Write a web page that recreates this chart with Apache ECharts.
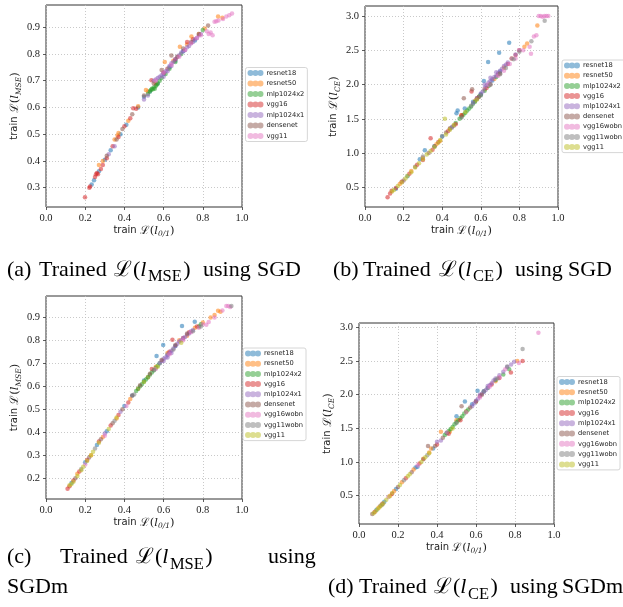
<!DOCTYPE html>
<html>
<head>
<meta charset="utf-8">
<script src="https://cdn.jsdelivr.net/npm/echarts@6/dist/echarts.min.js"></script>
<style>
  html, body { margin: 0; padding: 0; background: #fff; }
  #chart { width: 623px; height: 607px; }
</style>
</head>
<body>
<div id="chart"></div>
<script>
// ---- model names (legend order) ----
const modelsSgdMse = ['resnet18', 'resnet50', 'mlp1024x2', 'vgg16', 'mlp1024x1', 'densenet', 'vgg11'];
const modelsFull = ['resnet18', 'resnet50', 'mlp1024x2', 'vgg16', 'mlp1024x1', 'densenet', 'vgg16wobn', 'vgg11wobn', 'vgg11'];

// ---- tick labels ----
const xTicks = [0.0, 0.2, 0.4, 0.6, 0.8, 1.0];
const yTicksA = [0.3, 0.4, 0.5, 0.6, 0.7, 0.8, 0.9];
const yTicksB = [0.5, 1.0, 1.5, 2.0, 2.5, 3.0];
const yTicksC = [0.2, 0.3, 0.4, 0.5, 0.6, 0.7, 0.8, 0.9];
const yTicksD = [0.5, 1.0, 1.5, 2.0, 2.5, 3.0];

// ---- (a) SGD, MSE loss vs 0/1 loss ----
const a_resnet18 = [[0.233,0.312],[0.245,0.328],[0.27,0.362],[0.3,0.405],[0.33,0.44],[0.38,0.50],[0.41,0.535],[0.47,0.6],[0.5,0.64],[0.53,0.66],[0.57,0.69],[0.6,0.725],[0.63,0.75],[0.66,0.775],[0.7,0.81],[0.76,0.85]];
const a_resnet50 = [[0.27,0.385],[0.29,0.40],[0.35,0.48],[0.365,0.495],[0.37,0.505],[0.42,0.55],[0.47,0.605],[0.51,0.665],[0.52,0.66],[0.56,0.69],[0.606,0.77],[0.62,0.745],[0.65,0.775],[0.683,0.827],[0.72,0.835],[0.742,0.865],[0.78,0.875],[0.81,0.895],[0.878,0.94],[0.9,0.935]];
const a_mlp1024x2 = [[0.52,0.65],[0.53,0.66],[0.535,0.665],[0.54,0.67],[0.545,0.668],[0.55,0.675],[0.555,0.67],[0.56,0.68],[0.565,0.685],[0.57,0.69],[0.58,0.70],[0.59,0.71],[0.61,0.725],[0.63,0.745],[0.66,0.77],[0.69,0.80],[0.8,0.89]];
const a_vgg16 = [[0.199,0.264],[0.221,0.30],[0.225,0.305],[0.25,0.34],[0.255,0.35],[0.26,0.355],[0.265,0.35],[0.28,0.37],[0.29,0.385],[0.31,0.41],[0.34,0.455],[0.37,0.49],[0.40,0.53],[0.43,0.56],[0.445,0.597],[0.46,0.595],[0.538,0.702],[0.6,0.73],[0.66,0.78],[0.72,0.845],[0.75,0.855]];
const a_mlp1024x1 = [[0.55,0.70],[0.56,0.705],[0.57,0.71],[0.58,0.715],[0.59,0.72],[0.6,0.73],[0.61,0.735],[0.62,0.745],[0.63,0.755],[0.64,0.765],[0.65,0.77],[0.66,0.78],[0.67,0.79],[0.68,0.795],[0.69,0.805],[0.7,0.81],[0.71,0.815],[0.72,0.825],[0.73,0.83],[0.74,0.84],[0.75,0.845],[0.76,0.855],[0.77,0.86],[0.78,0.87],[0.79,0.875],[0.6,0.715],[0.62,0.735],[0.64,0.755],[0.35,0.455],[0.32,0.425],[0.5,0.63],[0.52,0.645]];
const a_densenet = [[0.31,0.42],[0.36,0.48],[0.39,0.52],[0.44,0.575],[0.5,0.645],[0.55,0.69],[0.59,0.74],[0.64,0.794],[0.67,0.79],[0.7,0.82],[0.74,0.845],[0.78,0.875],[0.827,0.906]];
const a_vgg11 = [[0.56,0.70],[0.6,0.73],[0.64,0.76],[0.68,0.79],[0.71,0.815],[0.74,0.84],[0.77,0.86],[0.79,0.87],[0.82,0.885],[0.83,0.875],[0.84,0.88],[0.85,0.87],[0.86,0.92],[0.869,0.922],[0.88,0.925],[0.903,0.931],[0.92,0.94],[0.935,0.945],[0.949,0.951]];

// ---- (b) SGD, CE loss vs 0/1 loss ----
const b_resnet18 = [[0.16,0.48],[0.22,0.66],[0.284,0.91],[0.31,1.04],[0.36,1.1],[0.4,1.24],[0.44,1.36],[0.474,1.58],[0.48,1.62],[0.517,1.65],[0.56,1.75],[0.6,1.86],[0.616,2.05],[0.638,2.33],[0.66,2.06],[0.695,2.465],[0.7,2.19],[0.747,2.61]];
const b_resnet50 = [[0.18,0.55],[0.24,0.74],[0.3,0.93],[0.37,1.13],[0.39,1.18],[0.44,1.36],[0.5,1.55],[0.57,1.76],[0.62,1.93],[0.67,2.08],[0.72,2.25],[0.76,2.38],[0.8,2.5],[0.826,2.55],[0.84,2.6],[0.893,2.86]];
const b_mlp1024x2 = [[0.47,1.44],[0.49,1.5],[0.5,1.53],[0.51,1.56],[0.52,1.59],[0.53,1.62],[0.54,1.65],[0.55,1.68],[0.56,1.72],[0.57,1.75],[0.58,1.79],[0.59,1.82],[0.6,1.85],[0.62,1.91],[0.64,1.98],[0.68,2.11]];
const b_vgg16 = [[0.117,0.354],[0.13,0.41],[0.138,0.45],[0.16,0.49],[0.19,0.58],[0.23,0.7],[0.27,0.83],[0.3,0.9],[0.34,1.215],[0.35,1.05],[0.38,1.16],[0.43,1.32],[0.47,1.42],[0.5,1.55],[0.552,1.9],[0.58,1.8],[0.63,1.95],[0.69,2.15],[0.74,2.3],[0.78,2.43]];
const b_mlp1024x1 = [[0.56,1.73],[0.58,1.8],[0.6,1.87],[0.61,1.9],[0.62,1.95],[0.63,1.99],[0.64,2.03],[0.65,2.05],[0.66,2.08],[0.67,2.11],[0.68,2.13],[0.69,2.17],[0.7,2.2],[0.71,2.23],[0.72,2.27],[0.73,2.29],[0.74,2.32],[0.76,2.38],[0.78,2.44],[0.8,2.5],[0.65,2.1],[0.68,2.18],[0.62,2.0],[0.45,1.38]];
const b_densenet = [[0.2,0.6],[0.26,0.8],[0.33,1.0],[0.36,1.1],[0.42,1.3],[0.46,1.4],[0.512,1.8],[0.555,1.93],[0.59,1.82],[0.65,2.0],[0.7,2.16]];
const b_vgg16wobn = [[0.64,2.0],[0.69,2.13],[0.72,2.2],[0.75,2.3],[0.78,2.38],[0.798,2.5],[0.82,2.5],[0.853,2.55],[0.86,2.45],[0.875,2.7],[0.888,2.72],[0.9,3.0],[0.91,3.0],[0.92,2.99],[0.93,3.0],[0.94,3.0],[0.95,3.0]];
const b_vgg11wobn = [[0.3,0.95],[0.4,1.25],[0.45,1.37],[0.5,1.52],[0.55,1.69],[0.6,1.84],[0.65,2.0],[0.7,2.15],[0.73,2.24],[0.77,2.37],[0.8,2.48],[0.862,2.63],[0.931,2.93]];
const b_vgg11 = [[0.14,0.44],[0.15,0.46],[0.17,0.52],[0.19,0.57],[0.21,0.63],[0.22,0.67],[0.24,0.72],[0.26,0.79],[0.28,0.85],[0.3,0.91],[0.32,0.98],[0.34,1.03],[0.36,1.09],[0.38,1.15],[0.39,1.19],[0.414,1.5],[0.42,1.27],[0.44,1.34],[0.46,1.41],[0.52,1.6],[0.58,1.78]];

// ---- (c) SGDm, MSE loss vs 0/1 loss ----
const c_resnet18 = [[0.13,0.18],[0.2,0.27],[0.26,0.345],[0.31,0.405],[0.4,0.515],[0.44,0.56],[0.5,0.625],[0.564,0.732],[0.598,0.78],[0.62,0.74],[0.66,0.775],[0.694,0.862],[0.759,0.881]];
const c_resnet50 = [[0.16,0.22],[0.23,0.3],[0.29,0.38],[0.36,0.46],[0.43,0.545],[0.47,0.59],[0.52,0.64],[0.56,0.685],[0.62,0.745],[0.68,0.8],[0.72,0.82],[0.76,0.855],[0.8,0.878],[0.84,0.9],[0.86,0.91],[0.878,0.929],[0.89,0.925]];
const c_mlp1024x2 = [[0.46,0.58],[0.47,0.59],[0.48,0.6],[0.49,0.61],[0.5,0.62],[0.51,0.63],[0.52,0.64],[0.53,0.65],[0.54,0.66],[0.55,0.67],[0.56,0.68],[0.57,0.69],[0.58,0.7],[0.78,0.86],[0.79,0.87]];
const c_vgg16 = [[0.11,0.155],[0.12,0.165],[0.14,0.19],[0.17,0.23],[0.21,0.28],[0.27,0.36],[0.33,0.43],[0.37,0.475],[0.42,0.53],[0.54,0.675],[0.63,0.75],[0.645,0.803],[0.7,0.81],[0.73,0.835],[0.77,0.86]];
const c_mlp1024x1 = [[0.58,0.7],[0.59,0.71],[0.6,0.72],[0.61,0.725],[0.62,0.735],[0.63,0.745],[0.64,0.755],[0.65,0.765],[0.66,0.775],[0.67,0.785],[0.68,0.795],[0.69,0.8],[0.7,0.81],[0.71,0.815],[0.72,0.825],[0.73,0.83],[0.74,0.84],[0.75,0.845],[0.6,0.71],[0.62,0.725],[0.64,0.745],[0.3,0.395],[0.38,0.49]];
const c_densenet = [[0.15,0.2],[0.22,0.29],[0.28,0.37],[0.34,0.44],[0.39,0.5],[0.44,0.56],[0.48,0.605],[0.53,0.655],[0.59,0.715],[0.66,0.78],[0.72,0.83]];
const c_vgg16wobn = [[0.2,0.26],[0.3,0.385],[0.41,0.515],[0.56,0.675],[0.63,0.74],[0.7,0.8],[0.74,0.835],[0.78,0.855],[0.8,0.87],[0.818,0.868],[0.83,0.88],[0.86,0.9],[0.9,0.93],[0.92,0.95],[0.93,0.95],[0.94,0.945]];
const c_vgg11wobn = [[0.18,0.24],[0.25,0.33],[0.35,0.45],[0.45,0.565],[0.55,0.67],[0.65,0.76],[0.75,0.84],[0.79,0.86],[0.946,0.95]];
const c_vgg11 = [[0.12,0.17],[0.13,0.175],[0.14,0.185],[0.16,0.21],[0.18,0.235],[0.19,0.25],[0.21,0.275],[0.23,0.3],[0.24,0.315],[0.27,0.355],[0.32,0.415],[0.36,0.465],[0.5,0.62],[0.57,0.685],[0.69,0.79]];

// ---- (d) SGDm, CE loss vs 0/1 loss ----
const d_resnet18 = [[0.09,0.29],[0.13,0.41],[0.19,0.6],[0.29,0.92],[0.3,0.93],[0.38,1.2],[0.45,1.43],[0.5,1.68],[0.543,1.9],[0.58,1.86],[0.608,2.06],[0.64,2.05]];
const d_resnet50 = [[0.1,0.32],[0.16,0.5],[0.18,0.57],[0.22,0.7],[0.28,0.89],[0.33,1.05],[0.36,1.14],[0.37,1.2],[0.42,1.45],[0.466,1.45],[0.5,1.62],[0.55,1.75],[0.62,1.98],[0.7,2.2],[0.812,2.5]];
const d_mlp1024x2 = [[0.44,1.4],[0.45,1.43],[0.46,1.46],[0.47,1.49],[0.48,1.52],[0.49,1.56],[0.5,1.59],[0.51,1.62],[0.52,1.65],[0.53,1.68],[0.54,1.72],[0.55,1.75],[0.56,1.78],[0.6,1.9],[0.66,2.1],[0.7,2.22],[0.74,2.3],[0.77,2.38]];
const d_vgg16 = [[0.08,0.26],[0.12,0.38],[0.17,0.53],[0.24,0.76],[0.31,0.98],[0.4,1.26],[0.46,1.42],[0.52,1.62],[0.6,1.9],[0.68,2.15],[0.72,2.25],[0.779,2.33],[0.839,2.5]];
const d_mlp1024x1 = [[0.58,1.83],[0.59,1.87],[0.6,1.91],[0.61,1.94],[0.62,1.98],[0.63,2.01],[0.64,2.04],[0.65,2.07],[0.66,2.1],[0.67,2.14],[0.68,2.17],[0.69,2.21],[0.7,2.24],[0.72,2.29],[0.74,2.34],[0.76,2.41],[0.78,2.45],[0.796,2.49],[0.62,2.0],[0.66,2.13],[0.42,1.32],[0.4,1.3]];
const d_densenet = [[0.068,0.227],[0.11,0.35],[0.2,0.63],[0.27,0.85],[0.33,1.04],[0.354,1.24],[0.39,1.24],[0.43,1.36],[0.526,1.83],[0.57,1.81],[0.63,2.0]];
const d_vgg16wobn = [[0.15,0.48],[0.3,0.95],[0.45,1.44],[0.55,1.74],[0.62,1.96],[0.67,2.12],[0.72,2.26],[0.75,2.38],[0.82,2.47],[0.92,2.92]];
const d_vgg11wobn = [[0.12,0.37],[0.23,0.73],[0.35,1.1],[0.5,1.58],[0.64,2.05],[0.71,2.24],[0.76,2.42],[0.839,2.68]];
const d_vgg11 = [[0.075,0.24],[0.085,0.27],[0.095,0.3],[0.105,0.33],[0.115,0.36],[0.125,0.39],[0.14,0.44],[0.155,0.49],[0.17,0.54],[0.21,0.66],[0.25,0.79],[0.26,0.82],[0.32,1.0],[0.34,1.07],[0.36,1.13],[0.48,1.5]];

// matplotlib tab10 cycle
const palette = ['#1f77b4', '#ff7f0e', '#2ca02c', '#d62728', '#9467bd', '#8c564b', '#e377c2', '#7f7f7f', '#bcbd22'];

const panels = [
  { names: modelsSgdMse, data: [a_resnet18, a_resnet50, a_mlp1024x2, a_vgg16, a_mlp1024x1, a_densenet, a_vgg11],
    grid: { left: 46, top: 5, width: 196, height: 202 }, yMin: 0.228, yMax: 0.983, yTicks: yTicksA, sub: 'MSE',
    legend: { left: 245.5, top: 67.5 }, gap: 2.5 },
  { names: modelsFull, data: [b_resnet18, b_resnet50, b_mlp1024x2, b_vgg16, b_mlp1024x1, b_densenet, b_vgg16wobn, b_vgg11wobn, b_vgg11],
    grid: { left: 365, top: 6, width: 193, height: 201 }, yMin: 0.213, yMax: 3.146, yTicks: yTicksB, sub: 'CE',
    legend: { left: 562, top: 60 }, gap: 2.2 },
  { names: modelsFull, data: [c_resnet18, c_resnet50, c_mlp1024x2, c_vgg16, c_mlp1024x1, c_densenet, c_vgg16wobn, c_vgg11wobn, c_vgg11],
    grid: { left: 46, top: 296, width: 196, height: 203 }, yMin: 0.11, yMax: 0.993, yTicks: yTicksC, sub: 'MSE',
    legend: { left: 243, top: 348 }, gap: 2.2 },
  { names: modelsFull, data: [d_resnet18, d_resnet50, d_mlp1024x2, d_vgg16, d_mlp1024x1, d_densenet, d_vgg16wobn, d_vgg11wobn, d_vgg11],
    grid: { left: 359, top: 323, width: 195, height: 201 }, yMin: 0.08, yMax: 3.065, yTicks: yTicksD, sub: 'CE',
    legend: { left: 557, top: 376.5 }, gap: 2.3 }
];

const SERIF = "'Liberation Serif', 'DejaVu Serif', serif";
const SANS = "'DejaVu Sans', sans-serif";

const nameRich = {
  t: { fontFamily: SANS, fontSize: 10, color: '#222', verticalAlign: 'top', lineHeight: 13 },
  L: { fontFamily: "'DejaVu Serif', serif", fontSize: 11.5, color: '#222', verticalAlign: 'top', lineHeight: 13 },
  p: { fontFamily: "'DejaVu Serif', serif", fontSize: 11.5, color: '#222', verticalAlign: 'top', lineHeight: 13 },
  i: { fontFamily: "'DejaVu Serif', serif", fontStyle: 'italic', fontSize: 11.5, color: '#222', verticalAlign: 'top', lineHeight: 13 },
  s: { fontFamily: "'DejaVu Serif', serif", fontStyle: 'italic', fontSize: 7.5, color: '#222', verticalAlign: 'top', lineHeight: 9, padding: [5.5, 0, 0, 0] }
};

const legendIcon = 'path://M0,3A3,3 0 1 1 6,3A3,3 0 1 1 0,3ZM5,3A3,3 0 1 1 11,3A3,3 0 1 1 5,3ZM10,3A3,3 0 1 1 16,3A3,3 0 1 1 10,3Z';

const grids = [], xAxes = [], yAxes = [], series = [], legends = [];

panels.forEach((p, gi) => {
  grids.push(Object.assign({ show: true, borderColor: '#333', borderWidth: 1, backgroundColor: 'transparent' }, p.grid));
  xAxes.push({
    gridIndex: gi, type: 'value', min: 0, max: 1, interval: 0.2,
    name: '{t|train }{L|ℒ}{p|(}{i|l}{s|0/1}{p|)}', nameLocation: 'middle', nameGap: 18,
    nameTextStyle: { rich: nameRich },
    axisLine: { show: false },
    axisTick: { show: true, length: 3, lineStyle: { color: '#333', width: 0.8 }, customValues: xTicks },
    axisLabel: { customValues: xTicks, margin: 6, fontFamily: SERIF, fontSize: 10.5, color: '#222', formatter: v => v.toFixed(1) },
    splitLine: { show: true, lineStyle: { type: [1, 2], color: '#bbb', width: 0.8 } }
  });
  yAxes.push({
    gridIndex: gi, type: 'value', min: p.yMin, max: p.yMax,
    name: '{t|train }{L|ℒ}{p|(}{i|l}{s|' + p.sub + '}{p|)}', nameLocation: 'middle', nameGap: 23, nameRotate: 90,
    nameTextStyle: { rich: nameRich },
    axisLine: { show: false },
    axisTick: { show: true, length: 3, lineStyle: { color: '#333', width: 0.8 }, customValues: p.yTicks },
    axisLabel: { customValues: p.yTicks, margin: 6, fontFamily: SERIF, fontSize: 10.5, color: '#222', formatter: v => v.toFixed(1) },
    splitLine: { show: true, lineStyle: { type: [1, 2], color: '#bbb', width: 0.8 } }
  });
  p.names.forEach((nm, k) => {
    series.push({
      type: 'scatter', name: nm, xAxisIndex: gi, yAxisIndex: gi,
      data: p.data[k], symbol: 'circle', symbolSize: 4.5,
      itemStyle: { color: palette[k], opacity: 0.55 },
      silent: true
    });
  });
  legends.push({
    orient: 'vertical', left: p.legend.left, top: p.legend.top,
    data: p.names.map((nm, k) => ({ name: nm, icon: legendIcon, itemStyle: { color: palette[k], opacity: 0.5 } })),
    itemWidth: 16, itemHeight: 8, itemGap: p.gap,
    padding: [1.5, 3, 1.5, 2],
    borderColor: '#ccc', borderWidth: 0.8, borderRadius: 2, backgroundColor: '#fff',
    textStyle: { fontFamily: SANS, fontSize: 6.7, color: '#222', lineHeight: 8, padding: [0, 0, 0, -2] },
    selectedMode: false
  });
});

// ---- captions (each word group placed on its own, like a justified line) ----
const capRich = {
  r: { fontFamily: "'Liberation Serif', serif", fontSize: 22, color: '#000', verticalAlign: 'top', lineHeight: 24 },
  L: { fontFamily: "'DejaVu Serif', serif", fontSize: 21.5, color: '#000', verticalAlign: 'top', lineHeight: 24, padding: [0, 1, 0, 0] },
  i: { fontFamily: "'Liberation Serif', serif", fontStyle: 'italic', fontSize: 22, color: '#000', verticalAlign: 'top', lineHeight: 24 },
  s: { fontFamily: "'Liberation Serif', serif", fontSize: 16.5, color: '#000', verticalAlign: 'top', lineHeight: 16, padding: [9.5, 1.5, 0, 1.5] }
};
function cap(x, y, text) {
  return { type: 'text', x: x, y: y, silent: true, style: { text: text, rich: capRich, verticalAlign: 'top', align: 'left' } };
}
const captions = [
  cap(7, 259, '{r|(a)}'), cap(39, 259, '{r|Trained}'), cap(114, 259, '{L|ℒ}{r|(}{i|l}{s|MSE}{r|)}'),
  cap(203, 259, '{r|using}'), cap(257, 259, '{r|SGD}'),
  cap(333, 259, '{r|(b)}'), cap(363, 259, '{r|Trained}'), cap(439, 259, '{L|ℒ}{r|(}{i|l}{s|CE}{r|)}'),
  cap(515, 259, '{r|using}'), cap(568, 259, '{r|SGD}'),
  cap(7, 546.5, '{r|(c)}'), cap(60, 546.5, '{r|Trained}'), cap(136, 546.5, '{L|ℒ}{r|(}{i|l}{s|MSE}{r|)}'),
  cap(268, 546.5, '{r|using}'),
  cap(7, 576.5, '{r|SGDm}'),
  cap(328, 576.5, '{r|(d)}'), cap(359, 576.5, '{r|Trained}'), cap(434, 576.5, '{L|ℒ}{r|(}{i|l}{s|CE}{r|)}'),
  cap(510, 576.5, '{r|using}'), cap(562, 576.5, '{r|SGDm}')
];

const chart = echarts.init(document.getElementById('chart'), null, { renderer: 'canvas' });
chart.setOption({
  animation: false,
  backgroundColor: '#fff',
  grid: grids,
  xAxis: xAxes,
  yAxis: yAxes,
  legend: legends,
  series: series,
  graphic: captions
});
</script>
</body>
</html>
